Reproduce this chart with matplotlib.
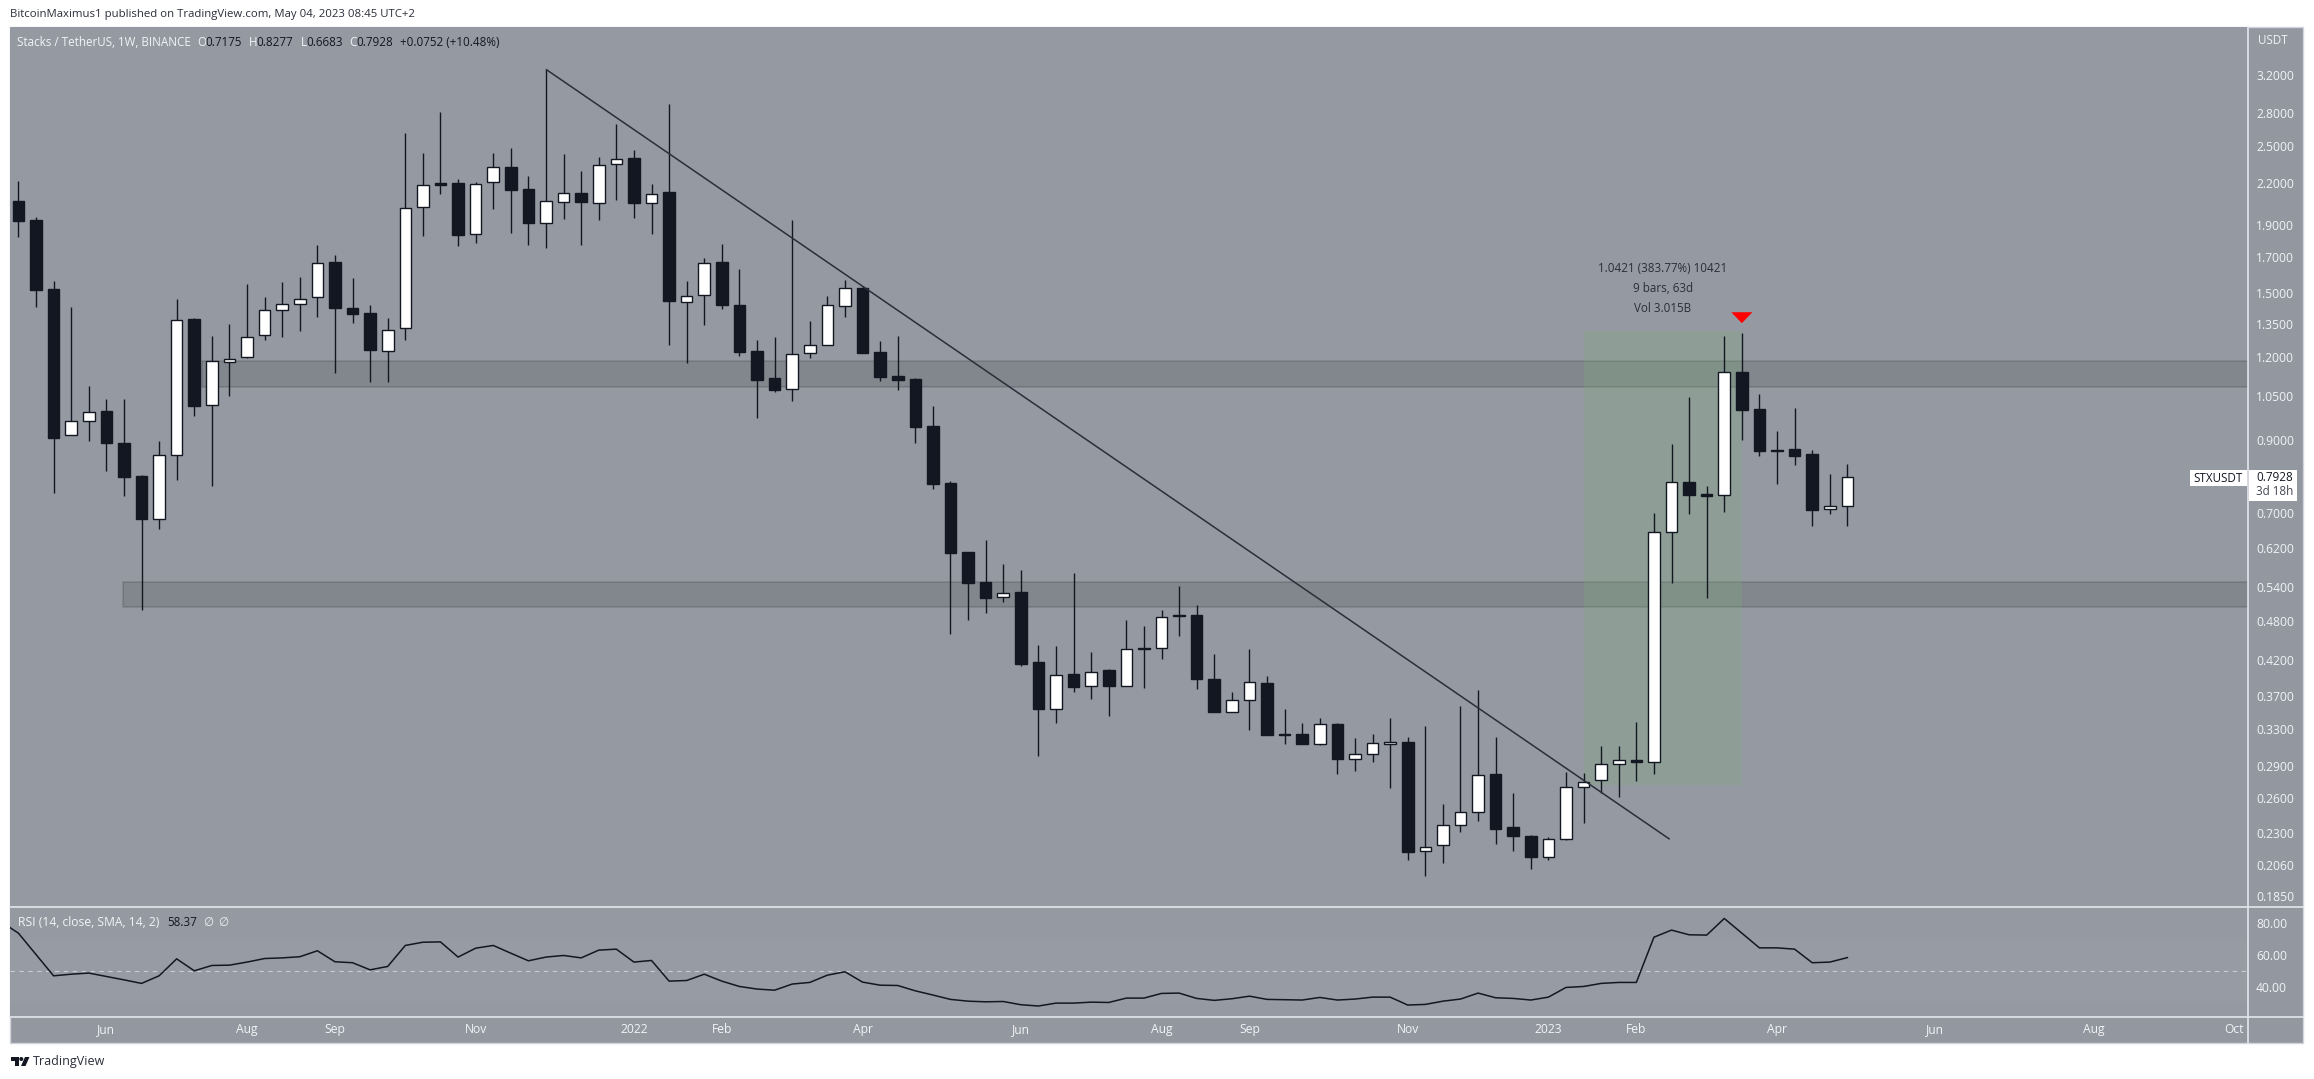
import matplotlib
matplotlib.use("Agg")
import matplotlib.pyplot as plt
from matplotlib.patches import Rectangle, Polygon, Circle
from matplotlib.ticker import FixedLocator, NullLocator, FixedFormatter
from matplotlib import transforms

plt.rcParams['font.family'] = ['Open Sans', 'DejaVu Sans']

highs = [2.211,1.951,1.564,1.429,1.087,1.0386,1.0386,.7974,.8974,1.4694,1.3769,1.292,1.347,1.548,1.480,1.559,1.586,1.771,1.710,1.581,
 1.439,1.375,2.612,2.437,2.810,2.227,2.204,2.437,2.479,2.250,3.263,2.431,2.292,2.403,2.695,2.465,2.191,2.892,1.564,1.693,
 1.779,1.629,1.277,1.287,1.933,1.361,1.485,1.570,1.537,1.270,1.292,1.117,1.0137,.7809,.6103,.6356,.5854,.5733,.4418,.4403,
 .5667,.4312,.4074,.4819,.4720,.4984,.5417,.5077,.4283,.3753,.4367,.3976,.3538,.3370,.3437,.3370,.3199,.3243,.3429,.3217,
 .3335,.2543,.3575,.3788,.3210,.2649,.2284,.2268,.2840,.2830,.3108,.3108,.3378,.6980,.8870,1.0446,.7675,1.292,1.3085,1.0555,
 .9294,1.0053,.8687,.8001,.8277]
lows = [1.823,1.429,.7500,.9151,.8974,.8095,.7422,.5001,.6618,.7837,.9802,.7685,1.0495,1.196,1.274,1.287,1.3147,1.380,1.138,1.352,
 1.102,1.102,1.274,1.829,2.119,1.767,1.787,2.008,1.848,1.773,1.754,1.940,1.773,1.933,2.072,1.946,1.844,1.252,1.178,1.342,
 1.4205,1.205,.9734,1.065,1.0326,1.198,1.254,1.382,1.219,1.107,1.073,.8921,.7605,.4590,.4819,.4938,.5130,.4117,.3005,.3370,
 .3753,.3663,.3453,.3841,.3805,.4209,.4559,.3792,.3505,.3509,.3289,.3236,.3133,.3136,.3126,.2823,.2853,.2943,.2689,.2094,
 .1981,.2075,.2308,.2397,.2216,.2160,.2029,.2094,.2244,.2384,.2646,.2610,.2758,.2826,.5486,.6972,.5208,.7021,.9014,.8528,
 .7738,.8258,.6688,.6972,.6683]
opens = [2.065,1.933,1.521,.9151,.9611,.9951,.8901,.7946,.6837,.8538,1.3705,1.016,1.183,1.200,1.295,1.417,1.447,1.478,1.671,1.427,
 1.398,1.229,1.327,2.020,2.196,2.196,1.840,2.204,2.322,2.151,1.917,2.062,2.121,2.055,2.346,2.395,2.055,2.129,1.457,1.488,
 1.669,1.442,1.225,1.116,1.074,1.219,1.254,1.435,1.527,1.222,1.125,1.113,.9458,.7756,.6103,.5499,.5226,.5312,.4174,.3546,
 .3995,.3828,.4051,.3841,.4382,.4382,.4909,.4904,.3935,.3509,.3658,.3881,.3251,.3251,.3140,.3366,.2981,.3033,.3140,.3162,
 .2165,.2211,.2370,.2479,.2820,.2346,.2281,.2121,.2257,.2696,.2771,.2929,.2970,.2940,.6535,.7782,.7465,.7430,1.1407,1.0031,
 .8716,.8727,.8577,.7078,.7175]
closes = [1.929,1.518,.9078,.9634,.9939,.8921,.7928,.6845,.8557,1.3673,1.0148,1.186,1.194,1.289,1.416,1.445,1.471,1.667,1.4255,1.396,
 1.232,1.321,2.018,2.186,2.186,1.8375,2.194,2.327,2.1485,1.915,2.067,2.121,2.058,2.343,2.392,2.053,2.119,1.461,1.4865,1.667,
 1.440,1.2236,1.111,1.073,1.2165,1.255,1.442,1.525,1.219,1.122,1.1095,.9435,.7738,.6089,.5486,.5208,.5299,.4141,.3542,.3986,
 .3823,.4028,.3836,.4362,.4362,.4876,.4881,.3931,.3505,.3654,.3890,.3236,.3236,.3136,.3362,.2977,.3029,.3147,.3158,.2155,
 .2193,.2367,.2477,.2817,.2335,.2278,.2118,.2255,.2702,.2749,.2926,.2967,.2946,.6535,.7773,.7447,.7422,1.1393,1.0008,.8677,
 .8677,.8528,.7070,.7152,.7928]
rsi = [80.7,73.5,60.3,47.1,48.1,48.8,46.7,44.6,42.4,47.1,57.6,50.2,53.5,53.7,55.6,57.8,58.2,58.9,62.6,55.8,55.2,
 50.8,52.9,65.9,67.9,68.1,58.7,64.2,65.9,61.1,56.4,58.7,59.7,58.2,63.0,63.6,55.6,56.6,43.8,44.2,48.1,
 43.8,40.5,38.9,38.2,42.0,43.0,47.5,49.6,43.2,41.3,41.1,37.8,35.2,32.5,31.4,31.0,31.2,29.2,28.4,30.2,
 30.2,30.8,30.6,33.3,33.3,36.2,36.4,33.1,31.9,32.9,34.5,32.5,32.3,32.1,33.7,32.1,32.7,33.9,33.9,29.0,
 29.4,31.4,32.7,36.4,33.5,33.1,32.1,33.9,39.9,40.5,42.4,43.0,43.0,71.0,75.4,72.5,72.3,82.6,73.5,64.4,
 64.4,63.6,55.2,55.6,58.37]

price_ticks = [3.2,2.8,2.5,2.2,1.9,1.7,1.5,1.35,1.2,1.05,.9,.7,.62,.54,.48,.42,.37,.33,.29,.26,.23,.206,.185]
price_labels = ['3.2000','2.8000','2.5000','2.2000','1.9000','1.7000','1.5000','1.3500','1.2000','1.0500','0.9000','0.7000',
 '0.6200','0.5400','0.4800','0.4200','0.3700','0.3300','0.2900','0.2600','0.2300','0.2060','0.1850']
rsi_ticks = [80,60,40]
rsi_labels = ['80.00','60.00','40.00']
month_pos = [5,13,18,26,35,40,48,57,65,70,79,87,92,100,109,118,126]
month_labels = ['Jun','Aug','Sep','Nov','2022','Feb','Apr','Jun','Aug','Sep','Nov','2023','Feb','Apr','Jun','Aug','Oct']

resistance_zone = (1.0815, 1.185)
support_zone = (0.5036, 0.5493)
trend_x = [30, 93.9]
trend_y = [3.263, 0.2252]
measure_x = [89, 98]
measure_y = [0.27154, 1.3136]
arrow_x = 98
arrow_y = [1.404, 1.3516]

W, H = 2314, 1079
BG = '#959aa2'
AXBG = '#93979f'
DARK = '#131722'
LIGHT = '#f2f3f6'
SEP = '#e4e6ec'

fig = plt.figure(figsize=(W/100, H/100), dpi=100, facecolor='white')
px = transforms.Affine2D().scale(1/W, -1/H).translate(0, 1) + fig.transFigure

def make_axes(x0, y0, x1, y1):
    return fig.add_axes([x0/W, 1-y1/H, (x1-x0)/W, (y1-y0)/H])

def t(x, y, s, color=LIGHT, size=8.4, ha='left', **kw):
    fig.text(x, y, s, transform=px, color=color, fontsize=size, ha=ha, va='center', **kw)

fig.patches.append(Rectangle((10, 27), 2293, 1016, transform=px, fc=AXBG, ec='#d1d4dc', lw=1, zorder=-5))

XL = (-0.478, 126.78)
ax = make_axes(10, 27, 2248, 907)
ax.set_facecolor(BG)
ax.set_yscale('log')
ax.set_xlim(*XL)
ax.set_ylim(0.1780, 3.780)

for (lo, hi), x0 in ((resistance_zone, 10.44), (support_zone, 5.95)):
    ax.add_patch(Rectangle((x0, lo), XL[1]-x0, hi-lo, fc=(0, 0, 0, .12), ec=(0, 0, 0, .14), lw=1.2, zorder=1))
ax.add_patch(Rectangle((measure_x[0], measure_y[0]), measure_x[1]-measure_x[0], measure_y[1]-measure_y[0],
                       fc='#7dac78', ec='none', alpha=.27, zorder=1.5))

xs = list(range(len(closes)))
ax.vlines(xs, lows, highs, color=DARK, lw=1.0, zorder=2)
for i, (o, c) in enumerate(zip(opens, closes)):
    up = c >= o
    ax.bar(i, abs(c-o), bottom=min(o, c), width=0.66, color='white' if up else DARK,
           edgecolor=DARK, linewidth=1.0, zorder=3)
ax.plot(trend_x, trend_y, color='#2a2e39', lw=1.1, zorder=4, solid_capstyle='butt')
ax.add_patch(Polygon([(arrow_x-.6, arrow_y[0]), (arrow_x+.6, arrow_y[0]), (arrow_x, arrow_y[1])], fc='#ff0000', ec='none', zorder=5))

ax.yaxis.tick_right()
ax.yaxis.set_major_locator(FixedLocator(price_ticks))
ax.yaxis.set_major_formatter(FixedFormatter(price_labels))
ax.yaxis.set_minor_locator(NullLocator())
ax.tick_params(axis='y', which='both', length=0, pad=5.8, labelcolor=LIGHT, labelsize=8.7)
ax.set_xticks([])
for s in ax.spines.values():
    s.set_visible(False)

ar = make_axes(10, 907, 2248, 1017)
ar.set_facecolor(BG)
ar.set_xlim(*XL)
ar.set_ylim(21.6, 89.7)
ar.axhspan(30, 70, color='white', alpha=.025, lw=0, zorder=1)
ar.axhline(50, color='#d8dae0', lw=0.8, alpha=.8, dashes=(4, 4), zorder=1.5)
ar.plot(range(-1, len(rsi)-1), rsi, color=DARK, lw=1.1, zorder=3)
ar.yaxis.tick_right()
ar.set_yticks(rsi_ticks, rsi_labels)
ar.set_xticks(month_pos, month_labels)
ar.tick_params(axis='y', length=0, pad=5.8, labelcolor=LIGHT, labelsize=8.7)
ar.tick_params(axis='x', length=0, pad=4.5, labelcolor=LIGHT, labelsize=8.7)
for s in ar.spines.values():
    s.set_visible(False)

fig.add_artist(plt.Line2D([2248, 2248], [27, 1043], transform=px, color=SEP, lw=1.2))
fig.add_artist(plt.Line2D([10, 2303], [907, 907], transform=px, color=SEP, lw=1.2))
fig.add_artist(plt.Line2D([10, 2303], [1017, 1017], transform=px, color=SEP, lw=1.2))

t(10, 15, 'BitcoinMaximus1 published on TradingView.com, May 04, 2023 08:45 UTC+2', color='#2a2e39', size=8.2)
t(17, 42, 'Stacks / TetherUS, 1W, BINANCE')
for x, lab, xv, val in ((197, 'O', 205, '0.7175'), (249, 'H', 256, '0.8277'), (301, 'L', 306, '0.6683'), (349, 'C', 356, '0.7928')):
    t(x, 42, lab)
    t(xv, 42, val, color=DARK)
t(400, 42, '+0.0752 (+10.48%)', color=DARK)
t(18, 923, 'RSI (14, close, SMA, 14, 2)', size=8.7)
t(167, 923, '58.37', color=DARK)
t(203, 923, '\u2205')
t(218, 923, '\u2205')
t(2258, 40, 'USDT')

for y, s in ((269, '1.0421 (383.77%) 10421'), (289, '9 bars, 63d'), (308.5, 'Vol 3.015B')):
    t(1663, y, s, color='#2a2e39', ha='center')

fig.patches.append(Rectangle((2190, 469.5), 56.5, 16.5, transform=px, fc='white', ec='none', zorder=6))
fig.patches.append(Rectangle((2249, 469.5), 47.5, 31, transform=px, fc='white', ec='none', zorder=6))
t(2218, 478, 'STXUSDT', color=DARK, ha='center', zorder=7)
t(2256, 477.5, '0.7928', color=DARK, zorder=7)
t(2256, 491.5, '3d 18h', color='#434651', zorder=7)

fig.patches.append(Polygon([(11, 1057), (19, 1057), (19, 1066), (15, 1066), (15, 1061), (11, 1061)], transform=px, fc=DARK, ec='none'))
fig.patches.append(Circle((21.3, 1059), 2, transform=px, fc=DARK, ec='none'))
fig.patches.append(Polygon([(25, 1057), (29.5, 1057), (25.5, 1066), (21, 1066)], transform=px, fc=DARK, ec='none'))
t(33, 1062, 'TradingView', color='#2a2e39', size=9)

fig.savefig('out.png', dpi=100, facecolor='white')
